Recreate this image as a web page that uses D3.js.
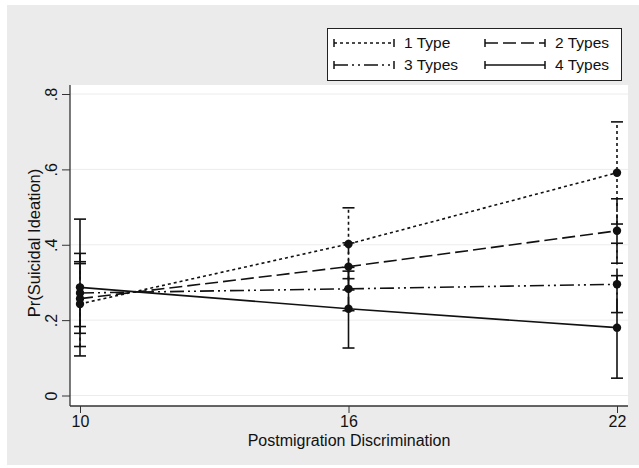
<!DOCTYPE html>
<html>
<head>
<meta charset="utf-8">
<script src="https://cdn.jsdelivr.net/npm/d3@7"></script>
<style>
  body { margin: 0; background: #fff; }
  svg { display: block; font-family: "Liberation Sans", Arial, sans-serif; }
</style>
</head>
<body>
<figure id="chart" style="margin:0"></figure>
<script>
// x categories (postmigration discrimination) and y ticks
const xValues = [10, 16, 22];
const yTicks = [0, 0.2, 0.4, 0.6, 0.8];
const yTickLabels = ["0", ".2", ".4", ".6", ".8"];

// predicted probabilities and 95% CI per number of discrimination types
const seriesNames = ["1 Type", "2 Types", "3 Types", "4 Types"];
const type1 = [0.243, 0.402, 0.591];
const type1Lo = [0.130, 0.310, 0.455];
const type1Hi = [0.355, 0.498, 0.726];
const type2 = [0.257, 0.342, 0.437];
const type2Lo = [0.165, 0.280, 0.351];
const type2Hi = [0.350, 0.405, 0.522];
const type3 = [0.272, 0.283, 0.295];
const type3Lo = [0.183, 0.225, 0.220];
const type3Hi = [0.377, 0.340, 0.404];
const type4 = [0.287, 0.230, 0.180];
const type4Lo = [0.105, 0.126, 0.046];
const type4Hi = [0.468, 0.330, 0.318];

const dashes = ["3,3", "13,5", "14,4,2,4,2,4", null];

const series = seriesNames.map((name, i) => ({
  name,
  dash: dashes[i],
  values: [type1, type2, type3, type4][i],
  lo: [type1Lo, type2Lo, type3Lo, type4Lo][i],
  hi: [type1Hi, type2Hi, type3Hi, type4Hi][i]
}));

const W = 639, H = 468;
const plot = { left: 70, right: 628, top: 85, bottom: 406 };

const svg = d3.select("#chart").append("svg")
  .attr("width", W).attr("height", H);

// outer graph region
svg.append("rect").attr("x", 7).attr("y", 5).attr("width", W - 7).attr("height", 460)
  .attr("fill", "#ebebeb");
svg.append("rect").attr("x", plot.left).attr("y", plot.top)
  .attr("width", plot.right - plot.left).attr("height", plot.bottom - plot.top)
  .attr("fill", "#fff");

const x = d3.scaleLinear().domain([10, 22]).range([80, 617]);
const y = d3.scaleLinear().domain([0, 0.8]).range([395.5, 94]);

// grid lines
svg.append("g").selectAll("line").data(yTicks).enter().append("line")
  .attr("x1", plot.left).attr("x2", plot.right)
  .attr("y1", d => y(d)).attr("y2", d => y(d))
  .attr("stroke", "#ececec").attr("stroke-width", 1);

// y axis
const yAxis = svg.append("g")
  .attr("transform", "translate(" + plot.left + ",0)")
  .call(d3.axisLeft(y).tickValues(yTicks).tickFormat((d, i) => yTickLabels[i]).tickSize(8).tickSizeOuter(0));
yAxis.select(".domain").attr("stroke", "#333").attr("stroke-width", 1.3)
  .attr("d", "M0," + plot.top + "V" + plot.bottom);
yAxis.selectAll(".tick line").attr("stroke", "#333");
yAxis.selectAll(".tick text")
  .attr("font-size", 16).attr("fill", "#111")
  .attr("transform", "translate(-19,0) rotate(-90)")
  .attr("x", 0).attr("dy", "0.35em").attr("text-anchor", "middle");
yAxis.attr("font-family", null);

// x axis
const xAxis = svg.append("g")
  .attr("transform", "translate(0," + plot.bottom + ")")
  .call(d3.axisBottom(x).tickValues(xValues).tickFormat(d3.format("d")).tickSize(7).tickSizeOuter(0));
xAxis.select(".domain").attr("stroke", "#333").attr("stroke-width", 1.3)
  .attr("d", "M" + plot.left + ",0H" + plot.right);
xAxis.selectAll(".tick line").attr("stroke", "#333");
xAxis.selectAll(".tick text").attr("font-size", 16).attr("fill", "#111").attr("y", 10);
xAxis.attr("font-family", null);

// axis titles
svg.append("text").attr("x", 349).attr("y", 446).attr("text-anchor", "middle")
  .attr("font-size", 16).attr("fill", "#111").text("Postmigration Discrimination");
svg.append("text").attr("transform", "translate(34,243) rotate(-90)")
  .attr("text-anchor", "middle").attr("dy", "0.35em")
  .attr("font-size", 16.5).attr("fill", "#111").text("Pr(Suicidal Ideation)");

// error bars
const capW = 6;
series.forEach(s => {
  const g = svg.append("g");
  xValues.forEach((xv, i) => {
    g.append("line")
      .attr("x1", x(xv)).attr("x2", x(xv))
      .attr("y1", y(s.lo[i])).attr("y2", y(s.hi[i]))
      .attr("stroke", "#111").attr("stroke-width", 1.6)
      .attr("stroke-dasharray", s.dash);
    [s.lo[i], s.hi[i]].forEach(v => {
      g.append("line")
        .attr("x1", x(xv) - capW).attr("x2", x(xv) + capW)
        .attr("y1", y(v)).attr("y2", y(v))
        .attr("stroke", "#111").attr("stroke-width", 1.6);
    });
  });
});

// connecting lines and markers
const line = d3.line().x((d, i) => x(xValues[i])).y(d => y(d));
series.forEach(s => {
  svg.append("path").datum(s.values).attr("d", line)
    .attr("fill", "none").attr("stroke", "#111").attr("stroke-width", 1.6)
    .attr("stroke-dasharray", s.dash);
  svg.append("g").selectAll("circle").data(s.values).enter().append("circle")
    .attr("cx", (d, i) => x(xValues[i])).attr("cy", d => y(d)).attr("r", 4.2)
    .attr("fill", "#111");
});

// legend
const leg = svg.append("g");
leg.append("rect").attr("x", 327.5).attr("y", 28.5).attr("width", 294).attr("height", 52)
  .attr("fill", "#fff").attr("stroke", "#222").attr("stroke-width", 1);
const legPos = [[334, 43], [485, 43], [334, 65], [485, 65]];
series.forEach((s, i) => {
  const [lx, ly] = legPos[i];
  const g = leg.append("g");
  g.append("line").attr("x1", lx).attr("x2", lx + 60).attr("y1", ly).attr("y2", ly)
    .attr("stroke", "#111").attr("stroke-width", 1.5).attr("stroke-dasharray", s.dash);
  [lx, lx + 60].forEach(cx => {
    g.append("line").attr("x1", cx).attr("x2", cx).attr("y1", ly - 4).attr("y2", ly + 4)
      .attr("stroke", "#111").attr("stroke-width", 1.5);
  });
  g.append("text").attr("x", lx + 70).attr("y", ly).attr("dy", "0.35em")
    .attr("font-size", 15.5).attr("fill", "#111").text(s.name);
});
</script>
</body>
</html>
